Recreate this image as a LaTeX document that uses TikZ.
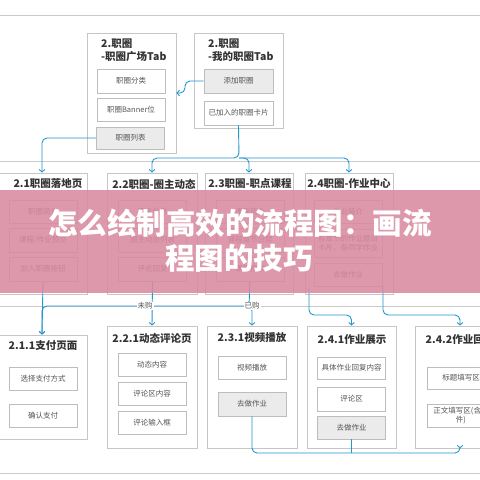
\documentclass[tikz,border=0pt]{standalone}
\usepackage{fontspec}
\setmainfont{Noto Sans CJK SC}
\usetikzlibrary{arrows.meta}
\definecolor{connc}{HTML}{2396CD}
\definecolor{outc}{HTML}{C6C6C6}
\definecolor{inc}{HTML}{BDBDBD}
\definecolor{grayf}{HTML}{EBEBEB}
\definecolor{sepc}{HTML}{CACACA}
\definecolor{txtc}{HTML}{555555}
\definecolor{ttlc}{HTML}{333333}
\definecolor{bannerc}{HTML}{D98AA0}
\tikzset{
  outer/.style={draw=outc, line width=0.8pt, fill=white, minimum width=89pt, inner sep=0pt},
  inner/.style={draw=inc, line width=0.7pt, fill=white, minimum width=68pt, minimum height=23pt, inner sep=1pt,
     text=txtc, font=\fontsize{7.5}{9}\selectfont, align=center},
  innergray/.style={inner, fill=grayf},
  ttl/.style={text=ttlc, font=\bfseries\fontsize{10.5}{12}\selectfont, inner sep=0pt},
  sepline/.style={draw=sepc, line width=0.8pt},
  conn/.style={draw=connc, line width=0.9pt, rounded corners=5pt, -{Straight Barb[length=2.5pt,width=5.5pt]}},
  connplain/.style={draw=connc, line width=0.9pt, rounded corners=5pt},
  lbl/.style={fill=white, inner sep=1pt, text=txtc, font=\fontsize{7.5}{9}\selectfont},
  bannertxt/.style={text=white, font=\bfseries\fontsize{29.5}{32}\selectfont, inner sep=0pt}
}
\begin{document}
\begin{tikzpicture}[x=1pt,y=-1pt]
\useasboundingbox (0,0) rectangle (480,480);
\fill[white] (0,0) rectangle (480,480);
\clip (0,0) rectangle (480,480);
% separators
\draw[sepline] (0,15) -- (480,15);
\draw[sepline] (0,161) -- (480,161);
\draw[sepline] (0,306) -- (480,306);
\draw[sepline] (0,473) -- (480,473);

% top boxes
\node[outer, minimum height=120pt] (L0) at (131.5,93) {};
\node[ttl, anchor=west] (L0t1) at (101,44) {2.职圈};
\node[ttl, anchor=west] (L0t2) at (101,57) {-职圈广场Tab};
\node[inner, minimum height=24pt] (tl1) at (131,81) {职圈分类};
\node[inner] (tl2) at (131,109.5) {职圈Banner位};
\node[innergray, minimum height=22pt] (tl3) at (130.5,138) {职圈列表};

\node[outer, minimum height=95pt] (R0) at (238.5,80.5) {};
\node[ttl, anchor=west] (R0t1) at (208,44) {2.职圈};
\node[ttl, anchor=west] (R0t2) at (208,57) {-我的职圈Tab};
\node[innergray, minimum height=24pt, minimum width=69pt] (tr1) at (238.5,81) {添加职圈};
\node[inner, minimum height=24pt, minimum width=69pt] (tr2) at (238.5,113) {已加入的职圈卡片};

% middle row
\node[outer, minimum height=121pt, minimum width=90pt] (m1) at (42,233.5) {};
\node[ttl] (m1t) at (48,184) {2.1职圈落地页};
\node[inner] (m1a) at (43,211.5) {职圈简介};
\node[inner, minimum height=24pt] (m1b) at (43,240) {课程/作业预览};
\node[inner, minimum height=24pt] (m1c) at (43,269) {加入职圈按钮};

\node[outer, minimum height=121pt, minimum width=90pt] (m2) at (152,233.5) {};
\node[ttl] (m2t) at (154,184) {2.2职圈-圈主动态};
\node[inner] (m2a) at (152.5,211.5) {圈主信息};
\node[inner, minimum height=24pt] (m2b) at (152.5,240) {圈主动态列表};
\node[inner, minimum height=24pt] (m2c) at (152.5,269) {评论回复};

\node[outer, minimum height=121pt, minimum width=88pt] (m3) at (249,233.5) {};
\node[ttl] (m3t) at (250,184) {2.3职圈-职点课程};
\node[inner] (m3a) at (250,211.5) {课程简介};
\node[inner, minimum height=24pt] (m3b) at (250,240) {课程章节分层};
\node[inner, minimum height=24pt] (m3c) at (250,269) {课程视频};

\node[outer, minimum height=121pt, minimum width=88pt] (m4) at (349,233.5) {};
\node[ttl] (m4t) at (349,184) {2.4职圈-作业中心};
\node[inner] (m4a) at (348,211.5) {作业简介};
\node[inner, minimum height=28pt] (m4b) at (348,243) {各章节的作业题目\\卡片、各同学作业};
\node[inner] (m4c) at (348,274.5) {去做作业};

% bottom row
\node[outer, minimum height=104pt, minimum width=90pt] (o1) at (42,387) {};
\node[ttl] (o1t) at (43,346) {2.1.1支付页面};
\node[inner] (o1a) at (43,378.5) {选择支付方式};
\node[inner] (o1b) at (43,415.5) {确认支付};

\node[outer, minimum height=122pt, minimum width=90pt] (o2) at (152,387) {};
\node[ttl] (o2t) at (152,338) {2.2.1动态评论页};
\node[inner] (o2a) at (152,364.5) {动态内容};
\node[inner] (o2b) at (152,393.5) {评论区内容};
\node[inner] (o2c) at (152,422.5) {评论输入框};

\node[outer, minimum height=122pt, minimum width=90pt] (o3) at (252,387) {};
\node[ttl] (o3t) at (252,338) {2.3.1视频播放};
\node[inner] (o3a) at (252,367.5) {视频播放};
\node[innergray, minimum height=24pt] (o3b) at (252,404) {去做作业};

\node[outer, minimum height=122pt, minimum width=89pt] (o4) at (351.5,387) {};
\node[ttl] (o4t) at (352,340) {2.4.1作业展示};
\node[inner, minimum height=22pt] (o4a) at (351.5,368) {具体作业回复内容};
\node[inner, minimum height=24pt] (o4b) at (351.5,399) {评论区};
\node[innergray] (o4c) at (351.5,427.5) {去做作业};

\node[outer, minimum height=122pt, minimum width=90pt] (o5) at (460,387) {};
\node[ttl] (o5t) at (460,340) {2.4.2作业回复};
\node[inner, minimum height=22pt] (o5a) at (461,378) {标题填写区};
\node[inner] (o5b) at (461,415.5) {正文填写区(含附\\件)};

% connectors
\coordinate (j) at (239,158);
\coordinate (k) at (249,306);
\coordinate (bb) at (0,453);
\coordinate (s1) at (309,287);
\coordinate (t1) at (309,315);
\coordinate (s2) at (383,286);
\coordinate (t2) at (383,315);
\coordinate (a1) at (185,81);
\coordinate (a2) at (185,93);

\draw[conn] (tl3.west) -| (m1.north);
\draw[conn] (tr2.south) -- (j) -| (m2.north);
\draw[conn] (j) -| (m3.north);
\draw[conn] (j) -| (m4.north);
\draw[conn] (tr1.west) -- (a1) |- (L0.east |- a2);

\draw[conn] (m1c.south) -- (o1.north);
\draw[conn] (m2c.south) -- (o2.north);
\draw[conn] (m3c.south) -- (k) -| (o1.north);
\draw[conn] (k) -| (o3.north);
\node[lbl] (wg) at (145,306) {未购};
\node[lbl] (yg) at (252,306) {已购};

\draw[conn] (s1) -- (t1) -| (o4.north);
\draw[conn] (s2) -- (t2) -| (o5.north);

\draw[conn] (o3b.south) -- (o3b.south |- bb) -| (o5.south);
\draw[connplain] (o4c.south) -- (o4c.south |- bb);

% banner
\fill[bannerc, opacity=0.88] (0,190) rectangle (480,293);
\node[bannertxt] (b1) at (240,223) {怎么绘制高效的流程图：画流};
\node[bannertxt] (b2) at (239,258) {程图的技巧};
\end{tikzpicture}
\end{document}
